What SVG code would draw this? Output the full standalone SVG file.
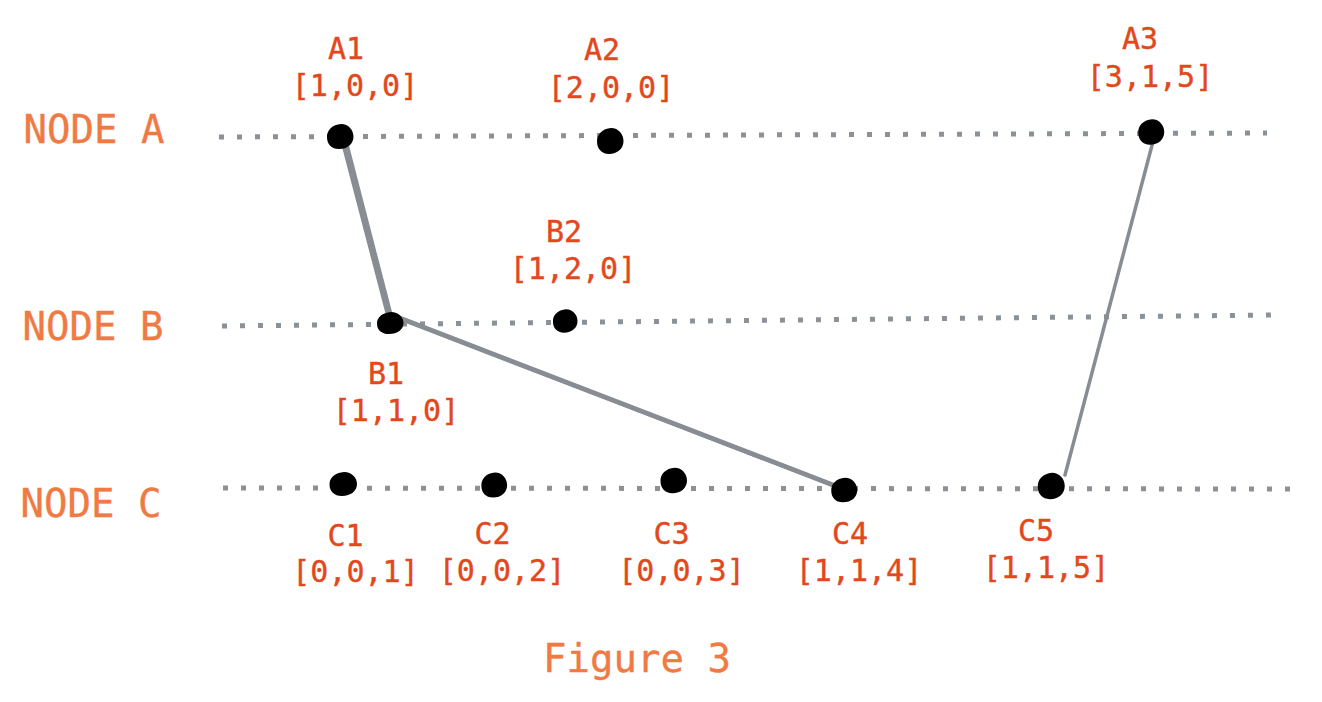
<svg xmlns="http://www.w3.org/2000/svg" width="1322" height="702" viewBox="0 0 1322 702">
<style>
.track{fill:none;stroke:#8b9197;stroke-width:5;stroke-dasharray:5 13}
.conn{fill:none;stroke:#878d93;stroke-linecap:round}
.lane{font-family:"DejaVu Sans Mono",monospace;font-size:39px;fill:#f07a44;stroke:#f07a44;stroke-width:0.35;text-anchor:middle}
.ev{font-family:"DejaVu Sans Mono",monospace;font-size:30px;fill:#e2481c;stroke:#e2481c;stroke-width:0.4;text-anchor:middle}
.dot{fill:#000}
</style>
<defs>
<path id="blob" d="M-12,1 C-12.5,-6 -7,-11.5 1,-12 C8,-12 12.5,-6 12.5,0 C12.5,7 7,12 -1,12 C-8,12 -12,7 -12,1 Z"/>
</defs>
<rect width="1322" height="702" fill="#fff"/>
<g id="lanes">
<text class="lane" x="94" y="143">NODE A</text>
<text class="lane" x="93" y="340">NODE B</text>
<text class="lane" x="91" y="517">NODE C</text>
</g>
<g id="tracks">
<line class="track" x1="219" y1="137" x2="1267" y2="133"/>
<line class="track" x1="222" y1="326" x2="1272" y2="315"/>
<line class="track" x1="223" y1="488" x2="1292" y2="489"/>
</g>
<g id="connectors">
<line class="conn" x1="342" y1="138" x2="390" y2="322" stroke-width="4.5"/>
<line class="conn" x1="346" y1="140" x2="392" y2="318" stroke-width="3"/>
<path d="M396,314 L403,321 L852,495 L850,489 Z" fill="#878d93"/>
<line class="conn" x1="398" y1="318" x2="851" y2="492" stroke-width="4"/>
<line class="conn" x1="1155" y1="134" x2="1065" y2="475" stroke-width="3.5"/>
</g>
<g id="A1"><use href="#blob" class="dot" transform="translate(340,136.5) scale(1.08,1.05)"/><text class="ev" x="346" y="59">A1</text><text class="ev" x="355" y="96">[1,0,0]</text></g>
<g id="A2"><use href="#blob" class="dot" transform="translate(610,141) scale(1.08)"/><text class="ev" x="602" y="60">A2</text><text class="ev" x="611" y="98">[2,0,0]</text></g>
<g id="A3"><use href="#blob" class="dot" transform="translate(1151,132) scale(1.06)"/><text class="ev" x="1140" y="49">A3</text><text class="ev" x="1150" y="87">[3,1,5]</text></g>
<g id="B1"><use href="#blob" class="dot" transform="translate(390,323) scale(1.08,0.92)"/><text class="ev" x="386" y="384">B1</text><text class="ev" x="396" y="421">[1,1,0]</text></g>
<g id="B2"><use href="#blob" class="dot" transform="translate(565,321) scale(1,0.97)"/><text class="ev" x="564" y="242">B2</text><text class="ev" x="573" y="279">[1,2,0]</text></g>
<g id="C1"><use href="#blob" class="dot" transform="translate(343,484) scale(1.12,1)"/><text class="ev" x="345.5" y="546">C1</text><text class="ev" x="355.5" y="582">[0,0,1]</text></g>
<g id="C2"><use href="#blob" class="dot" transform="translate(494,485) scale(1.05,1.05)"/><text class="ev" x="492.5" y="544">C2</text><text class="ev" x="502" y="581">[0,0,2]</text></g>
<g id="C3"><use href="#blob" class="dot" transform="translate(673.5,480.5) scale(1.08,1.06)"/><text class="ev" x="671.5" y="544">C3</text><text class="ev" x="681.5" y="581">[0,0,3]</text></g>
<g id="C4"><use href="#blob" class="dot" transform="translate(844,490) scale(1.06,1.03)"/><text class="ev" x="850" y="544">C4</text><text class="ev" x="859" y="581">[1,1,4]</text></g>
<g id="C5"><use href="#blob" class="dot" transform="translate(1051,486) scale(1.1)"/><text class="ev" x="1036" y="541">C5</text><text class="ev" x="1046" y="578">[1,1,5]</text></g>
<text class="lane" x="637" y="672">Figure 3</text>
</svg>
